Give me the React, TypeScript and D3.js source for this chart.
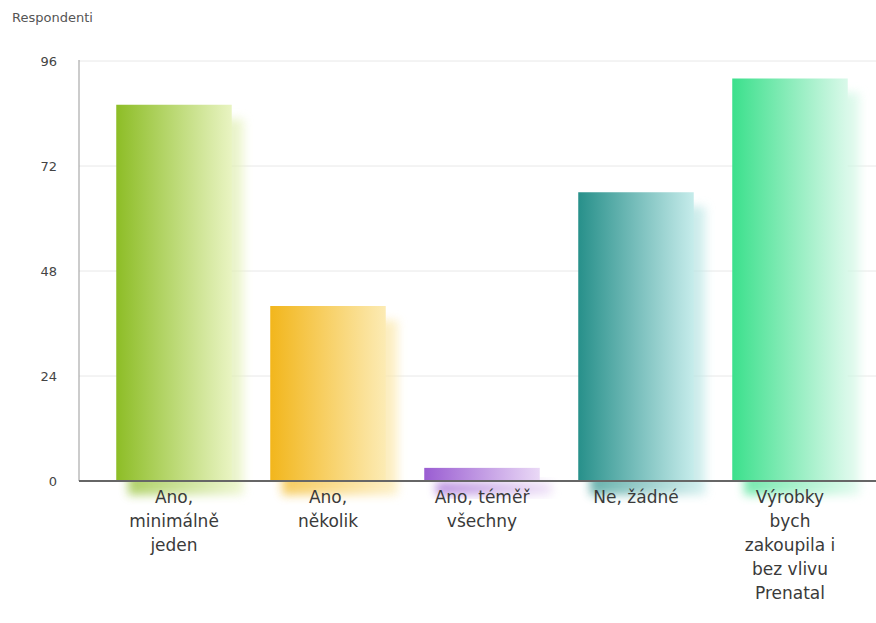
import React from "react";
import * as d3 from "d3";

const categories = [
  "Ano, minimálně jeden",
  "Ano, několik",
  "Ano, téměř všechny",
  "Ne, žádné",
  "Výrobky bych zakoupila i bez vlivu Prenatal",
];
const categoryLines = [
  ["Ano,", "minimálně", "jeden"],
  ["Ano,", "několik"],
  ["Ano, téměř", "všechny"],
  ["Ne, žádné"],
  ["Výrobky", "bych", "zakoupila i", "bez vlivu", "Prenatal"],
];
const values = [86, 40, 3, 66, 92];
const yTicks = [0, 24, 48, 72, 96];
const darkColors = ["#8dbd26", "#f2b61c", "#9a5dd2", "#27908a", "#3be08c"];
const lightColors = ["#e9f4c2", "#fcebb4", "#ead9f6", "#c6eceb", "#daf9ea"];
const yAxisTitle = "Respondenti";

const W = 876;
const H = 623;

export default function App() {
  const y = d3.scaleLinear().domain([0, 96]).range([481, 61]);
  const x = d3
    .scaleBand<string>()
    .domain(categories)
    .range([97, 867])
    .paddingInner(0.25)
    .paddingOuter(0.125);
  const font = "'DejaVu Sans', Verdana, sans-serif";

  return (
    <svg
      width={W}
      height={H}
      style={{ position: "absolute", left: 0, top: 0, background: "#fff" }}
    >
      <defs>
        {categories.map((c, i) => (
          <linearGradient key={c} id={`g${i}`} x1="0" x2="1" y1="0" y2="0">
            <stop offset="0%" stopColor={darkColors[i]} />
            <stop offset="45%" stopColor={d3.interpolateRgb(darkColors[i], lightColors[i])(0.45)} />
            <stop offset="100%" stopColor={lightColors[i]} />
          </linearGradient>
        ))}
        <filter id="blur" x="-30%" y="-30%" width="160%" height="160%">
          <feGaussianBlur stdDeviation="5" />
        </filter>
      </defs>

      <text x={12} y={22} fontFamily={font} fontSize={13} fill="#555">
        {yAxisTitle}
      </text>

      {yTicks.map((t) => (
        <g key={t}>
          {t > 0 && (
            <line x1={79} x2={W} y1={y(t)} y2={y(t)} stroke="#e8e8e8" strokeWidth={1} />
          )}
          <text
            x={57}
            y={y(t)}
            dy="0.35em"
            textAnchor="end"
            fontFamily={font}
            fontSize={13}
            fill="#444"
          >
            {t}
          </text>
        </g>
      ))}

      {/* shadows */}
      {categories.map((c, i) => (
        <rect
          key={"s" + c}
          x={(x(c) as number) + 12}
          y={y(values[i]) + 14}
          width={x.bandwidth()}
          height={y(0) - y(values[i])}
          fill={`url(#g${i})`}
          opacity={0.7}
          filter="url(#blur)"
        />
      ))}

      {/* bars */}
      {categories.map((c, i) => (
        <rect
          key={"b" + c}
          x={x(c) as number}
          y={y(values[i])}
          width={x.bandwidth()}
          height={y(0) - y(values[i])}
          fill={`url(#g${i})`}
        />
      ))}

      <line x1={79} x2={79} y1={y(96) - 1} y2={y(0)} stroke="#999" strokeWidth={1} />
      <line x1={79} x2={W} y1={y(0)} y2={y(0)} stroke="#666" strokeWidth={2} />

      {categories.map((c, i) => (
        <text
          key={"l" + c}
          x={(x(c) as number) + x.bandwidth() / 2}
          y={503}
          textAnchor="middle"
          fontFamily={font}
          fontSize={17}
          fill="#3a3a3a"
        >
          {categoryLines[i].map((ln, j) => (
            <tspan key={j} x={(x(c) as number) + x.bandwidth() / 2} dy={j === 0 ? 0 : 24}>
              {ln}
            </tspan>
          ))}
        </text>
      ))}
    </svg>
  );
}
